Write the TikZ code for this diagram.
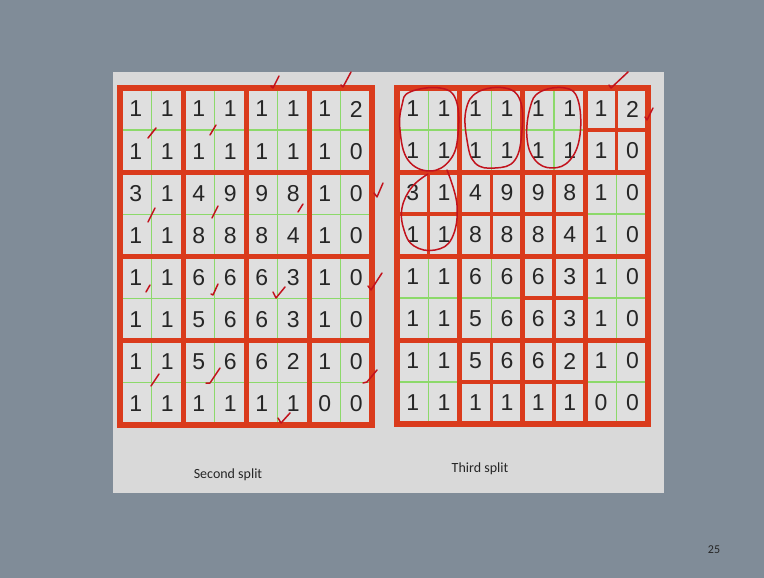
\documentclass[tikz,border=0pt]{standalone}
\usepackage{fontspec}
\setmainfont{Liberation Sans}
\newfontfamily\labfont{Carlito}
\definecolor{bgc}{HTML}{808C98}
\definecolor{panel}{HTML}{D9D9D9}
\definecolor{cellbg}{HTML}{DFDFDF}
\definecolor{gridred}{HTML}{DA3B1C}
\definecolor{gridgreen}{HTML}{8CD96A}
\definecolor{inkred}{HTML}{C2121C}
\definecolor{digitc}{HTML}{262626}
\tikzset{
  greenline/.style={draw=gridgreen, line width=1.3},
  blockline/.style={draw=gridred, line width=5},
  outerline/.style={draw=gridred, line width=6},
  splitline/.style={draw=gridred, line width=3.2},
  digit/.style={inner sep=0pt, text=digitc, font=\fontsize{23}{23}\selectfont},
  ink/.style={draw=inkred, line width=1.5, line cap=round, line join=round},
  caption/.style={inner sep=0pt, text=digitc, font=\labfont\fontsize{14}{14}\selectfont},
}
\begin{document}
\begin{tikzpicture}[x=1pt,y=-1pt]
\useasboundingbox (0,0) rectangle (764,578);
\fill[bgc] (0,0) rectangle (764,578);
\fill[panel] (113,72) rectangle (664,493);

% ---------- left grid (second split) ----------
\def\LX{120}\def\LW{31.5}\def\LY{88}\def\LH{42.1}
\fill[cellbg] (\LX,\LY) rectangle ({\LX+8*\LW},{\LY+8*\LH});
\foreach \k in {1,3,5,7}{
  \draw[greenline] ({\LX+\k*\LW},\LY) -- ({\LX+\k*\LW},{\LY+8*\LH});
  \draw[greenline] (\LX,{\LY+\k*\LH}) -- ({\LX+8*\LW},{\LY+\k*\LH});
}
\foreach \k in {2,4,6}{
  \draw[blockline] ({\LX+\k*\LW},\LY) -- ({\LX+\k*\LW},{\LY+8*\LH});
  \draw[blockline] (\LX,{\LY+\k*\LH}) -- ({\LX+8*\LW},{\LY+\k*\LH});
}
\draw[outerline] (\LX,\LY) rectangle ({\LX+8*\LW},{\LY+8*\LH});

% ---------- right grid (third split) ----------
\def\RX{397}\def\RW{31.4}\def\RY{88}\def\RH{42}
\fill[cellbg] (\RX,\RY) rectangle ({\RX+8*\RW},{\RY+8*\RH});
\foreach \k in {1,3,5,7}{
  \draw[greenline] ({\RX+\k*\RW},\RY) -- ({\RX+\k*\RW},{\RY+8*\RH});
  \draw[greenline] (\RX,{\RY+\k*\RH}) -- ({\RX+8*\RW},{\RY+\k*\RH});
}
\foreach \br/\bc in {0/3,1/0,1/1,1/2,2/2,3/1,3/2}{
  \draw[splitline] ({\RX+(2*\bc+1)*\RW},{\RY+2*\br*\RH}) -- ({\RX+(2*\bc+1)*\RW},{\RY+(2*\br+2)*\RH});
  \draw[splitline] ({\RX+2*\bc*\RW},{\RY+(2*\br+1)*\RH}) -- ({\RX+(2*\bc+2)*\RW},{\RY+(2*\br+1)*\RH});
}
\foreach \k in {2,4,6}{
  \draw[blockline] ({\RX+\k*\RW},\RY) -- ({\RX+\k*\RW},{\RY+8*\RH});
  \draw[blockline] (\RX,{\RY+\k*\RH}) -- ({\RX+8*\RW},{\RY+\k*\RH});
}
\draw[outerline] (\RX,\RY) rectangle ({\RX+8*\RW},{\RY+8*\RH});

% ---------- digits ----------
\foreach \r/\row in {0/{1,1,1,1,1,1,1,2},1/{1,1,1,1,1,1,1,0},2/{3,1,4,9,9,8,1,0},3/{1,1,8,8,8,4,1,0},4/{1,1,6,6,6,3,1,0},5/{1,1,5,6,6,3,1,0},6/{1,1,5,6,6,2,1,0},7/{1,1,1,1,1,1,0,0}}{
  \foreach \v [count=\c from 0] in \row {
    \node[digit] (L-\r-\c) at ({\LX+(\c+0.5)*\LW},{\LY+(\r+0.5)*\LH}) {\v};
    \node[digit] (R-\r-\c) at ({\RX+(\c+0.5)*\RW},{\RY+(\r+0.5)*\RH}) {\v};
  }
}

% ---------- hand-drawn ticks (left) ----------
\draw[ink] (271,86) -- (273,88) -- (279,76);
\draw[ink] (341,85) -- (343,87) -- (351,72);
\draw[ink] (148,138) -- (156,128);
\draw[ink] (210,135) -- (216,125);
\draw[ink] (374,193) -- (377,197) -- (383,183);
\draw[ink] (148,222) -- (155,208);
\draw[ink] (212,218) -- (218,206);
\draw[ink] (298,212) -- (303,204);
\draw[ink] (146,292) -- (150,285);
\draw[ink] (211,294) -- (213,295) -- (218,284);
\draw[ink] (273,292) -- (276,298) -- (285,287);
\draw[ink] (368,286) -- (371,290) -- (382,273);
\draw[ink] (151,386) -- (159,374);
\draw[ink] (206,383) -- (210,383) -- (220,368);
\draw[ink] (363,383) -- (367,382) -- (377,370);
\draw[ink] (278,418) -- (281,423) -- (290,413);

% ---------- hand-drawn marks (right) ----------
\draw[ink] (609,85) -- (611,88) -- (628,72);
\draw[ink] (645,117) -- (647,120) -- (653,108);
\draw[ink] plot[smooth cycle, tension=0.7] coordinates {(410,92) (440,88) (456,100) (458,135) (450,160) (430,171) (408,160) (400,130) (402,105)};
\draw[ink] plot[smooth cycle, tension=0.7] coordinates {(478,92) (505,88) (520,100) (522,130) (515,160) (495,168) (475,163) (467,140) (466,110)};
\draw[ink] plot[smooth cycle, tension=0.7] coordinates {(540,92) (565,88) (578,100) (580,135) (570,160) (552,168) (535,160) (527,138) (530,108)};
\draw[ink] plot[smooth, tension=0.7] coordinates {(447,170) (457,205) (452,238) (435,250) (414,246) (404,230) (402,208) (412,187) (428,174)};

% ---------- captions ----------
\node[caption] (cap2) at (228,475) {Second split};
\node[caption] (cap3) at (480,469) {Third split};
\node[caption, font=\labfont\fontsize{12}{12}\selectfont] (pnum) at (714,550) {25};
\end{tikzpicture}
\end{document}
